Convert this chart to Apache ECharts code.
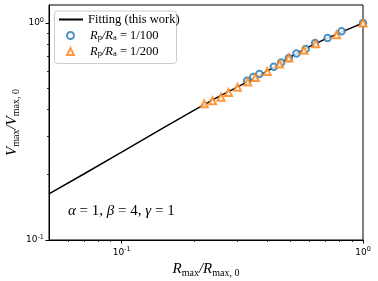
<!DOCTYPE html>
<html><head><meta charset="utf-8">
<script src="https://cdn.jsdelivr.net/npm/echarts@6/dist/echarts.min.js"></script>
<style>html,body{margin:0;padding:0;background:#fff}#c{width:378px;height:281px}</style>
</head><body><div id="c"></div>
<script>
const curveX = [0.05,0.07,0.1,0.15,0.2,0.25,0.3,0.4,0.5,0.6,0.7,0.8,0.9,1.0];
const curveY = [0.163,0.202,0.254,0.33,0.397,0.455,0.505,0.598,0.697,0.778,0.845,0.90,0.952,1.0];
const triX = [0.220,0.238,0.258,0.277,0.302,0.333,0.358,0.401,0.451,0.493,0.569,0.637,0.777,1.0];
const triY = [0.424,0.438,0.455,0.478,0.505,0.534,0.560,0.598,0.647,0.690,0.748,0.803,0.883,1.0];
const cirX = [0.331,0.351,0.372,0.427,0.458,0.493,0.530,0.579,0.633,0.713,0.815,1.0];
const cirY = [0.542,0.563,0.582,0.629,0.658,0.690,0.724,0.759,0.809,0.853,0.915,1.0];
const xMajor = [0.1, 1];
const xMinor = [0.06,0.07,0.08,0.09,0.2,0.3,0.4,0.5,0.6,0.7,0.8,0.9];
const yMajor = [0.1, 1];
const yMinor = [0.2,0.3,0.4,0.5,0.6,0.7,0.8,0.9];
const seriesNames = ['Fitting (this work)','R_p/R_a = 1/100','R_p/R_a = 1/200'];

const zip = (a,b)=>a.map((v,i)=>[v,b[i]]);
const serif = 'Liberation Serif';
const tickRich = {b:{fontSize:9,fontFamily:'DejaVu Sans',color:'#000'}, s:{fontSize:6.5,fontFamily:'DejaVu Sans',color:'#000',padding:[0,0,6,0]}};
const powFmt = v => { const e = Math.round(Math.log10(v)); return '{b|10}{s|' + (e<0?'-':'') + Math.abs(e) + '}'; };
const nameRich = {i:{fontFamily:serif,fontStyle:'italic',fontSize:15,color:'#000'},s:{fontFamily:serif,fontSize:10,color:'#000',padding:[7,0,0,0]}};
const legRich = {t:{fontFamily:serif,fontSize:12.5,color:'#000'},i:{fontFamily:serif,fontStyle:'italic',fontSize:12.5,color:'#000'},s:{fontFamily:serif,fontSize:8.5,color:'#000',padding:[5,0,0,0]},p:{width:11}};
const legFmt = n => { if(n===seriesNames[0]) return '{t|Fitting (this work)}';
  return '{p|}{i|R}{s|p}{i|/R}{s|a}{t| = 1/' + n.split('/').pop() + '}'; };
const legBase = {orient:'vertical',padding:0,textStyle:{rich:legRich},formatter:legFmt};

const chart = echarts.init(document.getElementById('c'));
chart.setOption({
  animation:false,
  grid:{left:49,right:15,top:5,bottom:41,show:true,borderColor:'#000',borderWidth:1,outerBoundsMode:'none',containLabel:false},
  xAxis:[{type:'log',logBase:10,min:0.05,max:1,
    axisLine:{lineStyle:{color:'#000',width:1}},
    axisTick:{show:true,inside:false,customValues:xMajor,length:3.5,lineStyle:{color:'#000',width:1}},
    minorTick:{show:false},splitLine:{show:false},
    axisLabel:{customValues:xMajor,formatter:powFmt,rich:tickRich,margin:6},
    name:'{i|R}{s|max}{i|/R}{s|max, 0}',nameLocation:'middle',nameGap:19,
    nameTextStyle:{rich:nameRich}
  },{type:'log',logBase:10,min:0.05,max:1,position:'bottom',
    axisLine:{show:false},
    axisTick:{show:true,inside:false,customValues:xMinor,length:2,lineStyle:{color:'#000',width:0.8}},
    axisLabel:{show:false},splitLine:{show:false}}],
  yAxis:[{type:'log',logBase:10,min:0.1,max:1.21,
    axisLine:{lineStyle:{color:'#000',width:1}},
    axisTick:{show:true,inside:false,customValues:yMajor,length:3.5,lineStyle:{color:'#000',width:1}},
    splitLine:{show:false},
    axisLabel:{customValues:yMajor,formatter:powFmt,rich:tickRich,margin:5},
    name:'{i|V}{s|max}{i|/V}{s|max, 0}',nameLocation:'middle',nameGap:28,nameMoveOverlap:false,
    nameTextStyle:{rich:nameRich}
  },{type:'log',logBase:10,min:0.1,max:1.21,position:'left',
    axisLine:{show:false},
    axisTick:{show:true,inside:false,customValues:yMinor,length:2,lineStyle:{color:'#000',width:0.8}},
    axisLabel:{show:false},splitLine:{show:false}}],
  legend:[
    Object.assign({},legBase,{left:58,top:13,itemWidth:24,itemHeight:8,itemGap:0,data:[{name:seriesNames[0],itemStyle:{opacity:0}}]}),
    Object.assign({},legBase,{left:66,top:29,itemWidth:7,itemHeight:7,data:[seriesNames[1]]}),
    Object.assign({},legBase,{left:66,top:45,itemWidth:7,itemHeight:7,data:[seriesNames[2]]})
  ],
  graphic:[
    {type:'rect',left:54,top:10.5,z:0,shape:{width:122,height:52.5,r:3},style:{fill:'#fff',stroke:'#ccc',lineWidth:1}},
    {type:'text',left:68,top:204,style:{
    text:'{g|α}{t| = 1, }{g|β}{t| = 4, }{g|γ}{t| = 1}',
    rich:{g:{fontFamily:serif,fontStyle:'italic',fontSize:15,fill:'#000'},t:{fontFamily:serif,fontSize:15,fill:'#000'}}}}],
  series:[
    {name:seriesNames[0],type:'line',data:zip(curveX,curveY),symbol:'none',lineStyle:{color:'#000',width:1.5},itemStyle:{color:'#000'},z:3},
    {name:seriesNames[1],type:'scatter',data:zip(cirX,cirY),symbol:'emptyCircle',symbolSize:6.5,itemStyle:{color:'#1f77b4',borderColor:'#1f77b4',borderWidth:1.5},z:4},
    {name:seriesNames[2],type:'scatter',data:zip(triX,triY),symbol:'emptyTriangle',symbolSize:7,itemStyle:{color:'#ff7f0e',borderColor:'#ff7f0e',borderWidth:1.5},z:4}
  ]
});
</script></body></html>
